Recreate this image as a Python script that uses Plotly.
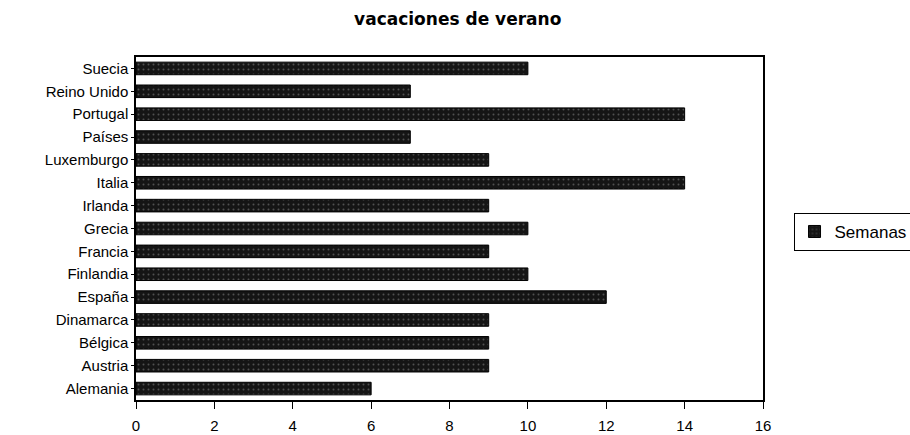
import plotly.graph_objects as go

# data (weeks of summer holiday per country)
countries = ["Alemania", "Austria", "Bélgica", "Dinamarca", "España", "Finlandia",
             "Francia", "Grecia", "Irlanda", "Italia", "Luxemburgo", "Países",
             "Portugal", "Reino Unido", "Suecia"]
semanas = [6, 9, 9, 9, 12, 10, 9, 10, 9, 14, 9, 7, 14, 7, 10]
x_ticks = [0, 2, 4, 6, 8, 10, 12, 14, 16]

fig = go.Figure()
fig.add_trace(go.Bar(
    y=countries,
    x=semanas,
    orientation="h",
    name="Semanas",
    marker=dict(
        color="#151515",
        line=dict(color="#000000", width=1),
        pattern=dict(shape=".", fgcolor="#8c8c8c", size=5, solidity=0.12),
    ),
))

fig.update_layout(
    width=910, height=435,
    margin=dict(l=136, r=147, t=57, b=35, autoexpand=False),
    paper_bgcolor="white", plot_bgcolor="white",
    font=dict(family="Liberation Sans, Arial", color="black"),
    title=dict(text="<b>vacaciones de verano</b>", x=0.503, xanchor="center",
               xref="container", y=0.956, yanchor="middle",
               font=dict(size=17, family="DejaVu Sans")),
    bargap=0.45,
    showlegend=True,
    legend=dict(xref="container", x=0.872, y=0.49, xanchor="left", yanchor="middle",
                bordercolor="black", borderwidth=1, bgcolor="white",
                font=dict(size=17), itemwidth=30),
    xaxis=dict(range=[0, 16], tickvals=x_ticks, ticks="outside", ticklen=7,
               tickcolor="black", showgrid=False, zeroline=False,
               showline=True, linecolor="black", linewidth=1.5, mirror=True,
               tickfont=dict(size=15), ticklabelstandoff=4),
    yaxis=dict(categoryorder="array", categoryarray=countries,
               ticks="outside", ticklen=3, tickcolor="black", automargin=False,
               showline=True, linecolor="black", linewidth=1.5, mirror=True,
               showgrid=False, tickfont=dict(size=15)),
)

# page default body margin would shift the figure by 8px
fig.write_html("out.html", config={"displayModeBar": False},
               post_script="document.body.style.margin='0';")
